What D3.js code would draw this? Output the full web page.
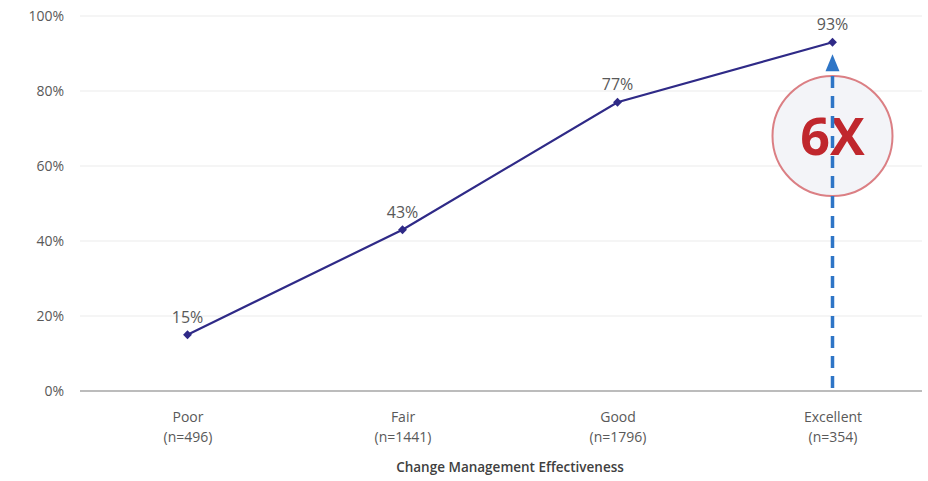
<!DOCTYPE html>
<html><head><meta charset="utf-8">
<script src="https://cdn.jsdelivr.net/npm/d3@7"></script>
<style>body{margin:0;background:#fff}svg{display:block}</style>
</head><body>
<svg id="c" width="928" height="481"></svg>
<script>
const categories = ["Poor","Fair","Good","Excellent"];
const sampleSizes = ["(n=496)","(n=1441)","(n=1796)","(n=354)"];
const values = [15,43,77,93];
const yTicks = [0,20,40,60,80,100];
const calloutText = "6X";
const xTitle = "Change Management Effectiveness";

const svg = d3.select("#c");
const font = "'Open Sans', 'Noto Sans', sans-serif";
const x = d3.scalePoint().domain(categories).range([187.5,832.5]);
const y = d3.scaleLinear().domain([0,100]).range([391,16]);
const gx0 = 80, gx1 = 922;

// gridlines
svg.append("g").selectAll("line").data(yTicks.filter(d=>d>0)).join("line")
  .attr("x1",gx0).attr("x2",gx1).attr("y1",d=>y(d)).attr("y2",d=>y(d))
  .attr("stroke","#ebebeb").attr("stroke-width",1.2);
// y axis labels
const ya = svg.append("g").attr("transform","translate(64,0)")
  .call(d3.axisLeft(y).tickValues(yTicks).tickFormat(d=>d+"%").tickSize(0).tickPadding(0));
ya.select(".domain").remove();
ya.selectAll("text").attr("font-family",font).attr("font-size",14).attr("fill","#595959");
// baseline
svg.append("line").attr("x1",gx0).attr("x2",gx1).attr("y1",y(0)).attr("y2",y(0))
  .attr("stroke","#a6a6a6").attr("stroke-width",1.3);

// x axis labels
const xa = svg.append("g").attr("transform",`translate(0,${y(0)})`)
  .call(d3.axisBottom(x).tickSize(0).tickPadding(0).tickFormat(""));
xa.select(".domain").remove();
xa.selectAll(".tick").each(function(d,i){
  const g = d3.select(this);
  g.append("text").attr("y",31).attr("text-anchor","middle").attr("font-family",font)
    .attr("font-size",14).attr("fill","#595959").text(d);
  g.append("text").attr("y",51).attr("text-anchor","middle").attr("font-family",font)
    .attr("font-size",14).attr("fill","#595959").text(sampleSizes[i]);
});
svg.append("text").attr("x",(x("Fair")+x("Good"))/2).attr("y",472).attr("text-anchor","middle")
  .attr("font-family",font).attr("font-size",13.5).attr("font-weight",600).attr("fill","#404040").text(xTitle);

// callout circle
const ex = x("Excellent");
svg.append("circle").attr("cx",ex).attr("cy",136).attr("r",60)
  .attr("fill","#f3f4f8").attr("stroke","#db7f84").attr("stroke-width",2);
svg.append("text").attr("x",ex).attr("y",155).attr("text-anchor","middle")
  .attr("font-family",font).attr("font-size",52).attr("font-weight",700)
  .attr("fill","#c0272d").text(calloutText);

// dashed arrow
svg.append("line").attr("x1",ex).attr("x2",ex).attr("y1",y(0)-3).attr("y2",y(93)+28)
  .attr("stroke","#2e75c6").attr("stroke-width",3.5).attr("stroke-dasharray","12,8");
svg.append("path").attr("d",`M${ex-7},${y(93)+29} L${ex},${y(93)+12} L${ex+7},${y(93)+29} Z`).attr("fill","#2e75c6");

// line
svg.append("path").datum(values)
  .attr("d",d3.line().x((d,i)=>x(categories[i])).y(d=>y(d)))
  .attr("fill","none").attr("stroke","#2f2a87").attr("stroke-width",2.2);
svg.append("g").selectAll("path").data(values).join("path")
  .attr("transform",(d,i)=>`translate(${x(categories[i])},${y(d)})`)
  .attr("d",d3.symbol(d3.symbolDiamond2,50)).attr("fill","#2f2a87");
svg.append("g").selectAll("text").data(values).join("text")
  .attr("x",(d,i)=>x(categories[i])).attr("y",d=>y(d)-12).attr("text-anchor","middle")
  .attr("font-family",font).attr("font-size",16).attr("fill","#595959").text(d=>d+"%");
</script>
</body></html>
